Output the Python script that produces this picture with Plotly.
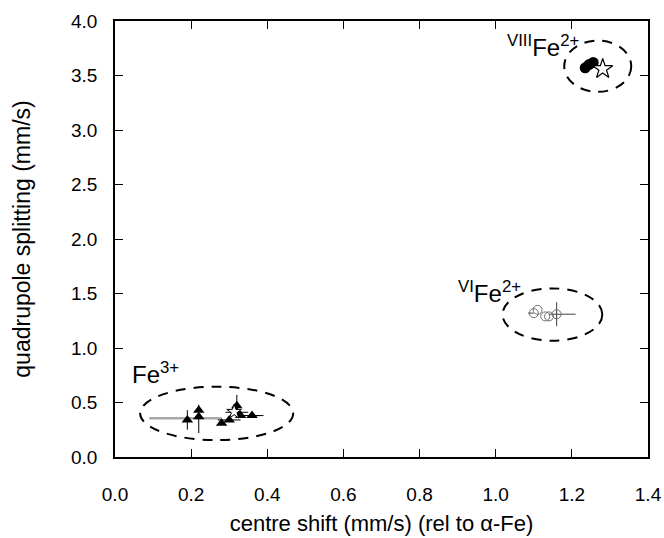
import plotly.graph_objects as go

# ---------------- data ----------------
# Fe3+ (triangles)
fe3_x = [0.19, 0.22, 0.22, 0.28, 0.30, 0.32, 0.32, 0.33, 0.36]
fe3_y = [0.34, 0.43, 0.37, 0.31, 0.34, 0.47, 0.41, 0.38, 0.38]
fe3_err_y_plus = [0.09, 0.05, 0.00, 0.00, 0.00, 0.10, 0.00, 0.00, 0.00]
fe3_err_y_minus = [0.09, 0.00, 0.15, 0.00, 0.00, 0.10, 0.00, 0.00, 0.00]
fe3_err_x_plus = [0.00, 0.00, 0.00, 0.00, 0.03, 0.00, 0.03, 0.05, 0.03]
fe3_err_x_minus = [0.00, 0.00, 0.00, 0.00, 0.03, 0.00, 0.03, 0.00, 0.03]
# grey (broad) horizontal uncertainty in the Fe3+ group
fe3_grey_x = [0.19]
fe3_grey_y = [0.355]
fe3_grey_plus = [0.09]
fe3_grey_minus = [0.10]
# reference (star) in Fe3+ group
fe3_star_x = [0.313]
fe3_star_y = [0.415]

# VI Fe2+ (open circles)
vi_x = [1.10, 1.11, 1.13, 1.14, 1.16]
vi_y = [1.32, 1.35, 1.29, 1.29, 1.31]
vi_err_y = [0.00, 0.00, 0.00, 0.00, 0.11]
vi_err_x_plus = [0.00, 0.00, 0.00, 0.00, 0.05]
vi_err_x_minus = [0.015, 0.00, 0.00, 0.00, 0.02]

# VIII Fe2+ (filled circles + star)
viii_x = [1.235, 1.245, 1.256]
viii_y = [3.57, 3.60, 3.62]
viii_star_x = [1.281]
viii_star_y = [3.56]

# group ellipses: centre x, centre y, radius x, radius y
ell_cx = [0.267, 1.149, 1.268]
ell_cy = [0.400, 1.307, 3.585]
ell_rx = [0.201, 0.131, 0.088]
ell_ry = [0.245, 0.240, 0.235]

# group labels
lab_text = ["Fe<sup>3+</sup>", "<sup>VI</sup>Fe<sup>2+</sup>", "<sup>VIII</sup>Fe<sup>2+</sup>"]
lab_x = [0.040, 1.072, 1.225]
lab_y = [0.775, 1.51, 3.77]
lab_anchor = ["left", "right", "right"]

x_ticks = [0.0, 0.2, 0.4, 0.6, 0.8, 1.0, 1.2, 1.4]
y_ticks = [0.0, 0.5, 1.0, 1.5, 2.0, 2.5, 3.0, 3.5, 4.0]

FONT = "Arial, Liberation Sans, Helvetica, sans-serif"

fig = go.Figure()

fig.add_trace(go.Scatter(
    x=fe3_grey_x, y=fe3_grey_y, mode="markers",
    marker=dict(size=1, color="rgba(0,0,0,0)"),
    error_x=dict(type="data", symmetric=False, array=fe3_grey_plus,
                 arrayminus=fe3_grey_minus, color="#a8a8a8", thickness=2.5, width=0),
    showlegend=False, hoverinfo="skip"))

fig.add_trace(go.Scatter(
    x=fe3_x, y=fe3_y, mode="markers",
    marker=dict(symbol="triangle-up", size=10, color="black"),
    error_y=dict(type="data", symmetric=False, array=fe3_err_y_plus,
                 arrayminus=fe3_err_y_minus, color="black", thickness=1, width=0),
    error_x=dict(type="data", symmetric=False, array=fe3_err_x_plus,
                 arrayminus=fe3_err_x_minus, color="black", thickness=1, width=0),
    showlegend=False))

fig.add_trace(go.Scatter(
    x=fe3_star_x, y=fe3_star_y, mode="markers",
    marker=dict(symbol="star", size=11, color="white", line=dict(color="black", width=1)),
    showlegend=False))

fig.add_trace(go.Scatter(
    x=vi_x, y=vi_y, mode="markers",
    marker=dict(symbol="circle-open", size=9, color="#707070", line=dict(width=1)),
    error_y=dict(type="data", array=vi_err_y, color="#404040", thickness=1, width=0),
    error_x=dict(type="data", symmetric=False, array=vi_err_x_plus,
                 arrayminus=vi_err_x_minus, color="#404040", thickness=1, width=0),
    showlegend=False))

fig.add_trace(go.Scatter(
    x=viii_x, y=viii_y, mode="markers",
    marker=dict(symbol="circle", size=11, color="black"),
    showlegend=False))

fig.add_trace(go.Scatter(
    x=viii_star_x, y=viii_star_y, mode="markers",
    marker=dict(symbol="star", size=15, color="white", line=dict(color="black", width=1.2)),
    showlegend=False))

for cx, cy, rx, ry in zip(ell_cx, ell_cy, ell_rx, ell_ry):
    fig.add_shape(type="circle", xref="x", yref="y",
                  x0=cx - rx, x1=cx + rx, y0=cy - ry, y1=cy + ry,
                  line=dict(color="black", width=2, dash="10px,8px"))

for t, x, y, a in zip(lab_text, lab_x, lab_y, lab_anchor):
    fig.add_annotation(x=x, y=y, xref="x", yref="y", text=t, showarrow=False,
                       xanchor=a, yanchor="middle",
                       font=dict(family=FONT, size=24, color="black"))

axis_common = dict(
    showline=True, linecolor="black", linewidth=1.5, mirror="ticks",
    ticks="inside", ticklen=8, tickwidth=1.2, tickcolor="black",
    showgrid=False, zeroline=False, tickformat=".1f",
    tickfont=dict(family=FONT, size=19, color="black"),
)

fig.update_xaxes(range=[0, 1.4], tickvals=x_ticks, ticklabelstandoff=19,
                 title=dict(text="centre shift (mm/s) (rel to α-Fe)",
                            font=dict(family=FONT, size=22, color="black"), standoff=12),
                 **axis_common)
fig.update_yaxes(range=[0, 4.0], tickvals=y_ticks, ticklabelstandoff=12,
                 title=dict(text="quadrupole splitting (mm/s)",
                            font=dict(family=FONT, size=23, color="black"), standoff=34),
                 **axis_common)

fig.update_layout(
    width=664, height=538,
    margin=dict(l=115, r=16, t=21, b=81, autoexpand=False),
    plot_bgcolor="white", paper_bgcolor="white",
    showlegend=False,
)

fig.write_html("out.html")
